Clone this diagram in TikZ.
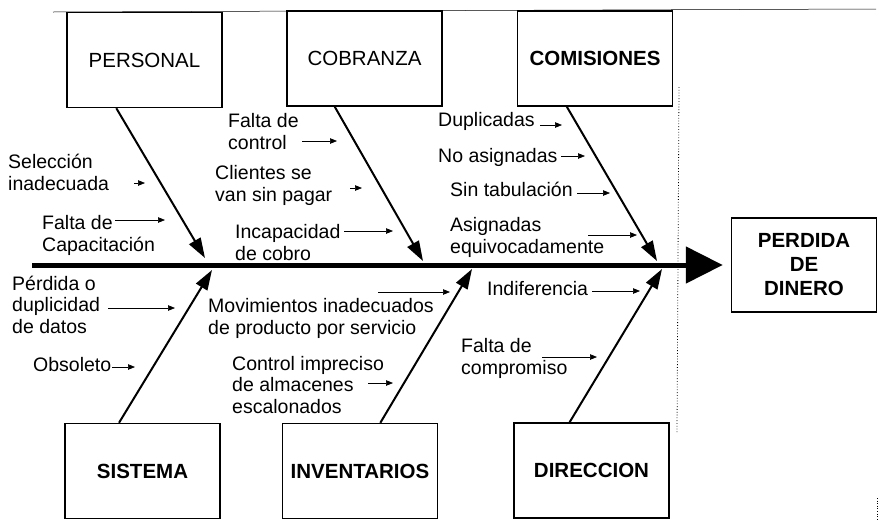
\documentclass[tikz,border=0pt]{standalone}
\usepackage{fontspec}
\setmainfont{Liberation Sans}
\usepackage{tikz}
\usetikzlibrary{arrows.meta}
\usetikzlibrary{calc}

\tikzset{
    caja/.style={draw,line width=1.5pt,minimum width=155pt,minimum height=95pt,inner sep=0pt,
        font=\fontsize{20.5}{24}\selectfont,align=center},
    causa/.style={anchor=base west,inner sep=0pt,align=left,font=\fontsize{19.5}{21.5}\selectfont},
    espina/.style={line width=5pt,-{Triangle[length=37pt,width=36pt]}},
    hueso/.style={line width=2pt,-{Triangle[length=20pt,width=13pt]}},
    flechita/.style={line width=0.7pt,-{Triangle[length=7pt,width=5.5pt]}}
}

\begin{document}
\begin{tikzpicture}[x=1pt,y=-1pt]
            \useasboundingbox (0,0) rectangle (880,520);
            % bordes del papel
            \draw[line width=0.5pt] (53,12) -- (876,9);
            \draw[dotted,line width=0.8pt] (679,87) -- (677,432);
            \draw[dotted,line width=0.6pt] (877,498) -- (877,520);
            % categorias
            \node[caja] (personal) at (144.5,60) {PERSONAL};
            \node[caja] (cobranza) at (364.5,58.5) {COBRANZA};
            \node[caja] (comisiones) at (595,58.5) {\textbf{COMISIONES}};
            \node[caja] (sistema) at (142.5,471) {\textbf{SISTEMA}};
            \node[caja] (inventarios) at (360,471) {\textbf{INVENTARIOS}};
            \node[caja] (direccion) at (591.5,470.5) {\textbf{DIRECCION}};
            \node[caja,minimum width=145pt,minimum height=94pt] (perdida) at (804,265) {\textbf{PERDIDA}\\\textbf{DE}\\\textbf{DINERO}};
            % espina central
            \coordinate (inicio) at (32,265);
            \draw[espina,shorten >=8pt] (inicio) -- (perdida.west);
            % huesos
            \foreach \caja/\t/\x/\y in {personal/0.32/205/258,cobranza/0.31/423/261,comisiones/0.32/657/261,
                                        sistema/0.35/212/270,inventarios/0.63/472/269,direccion/0.36/662/269} {
                \coordinate (p\caja) at (\x,\y);
                \ifnum\y<265
                    \draw[hueso] ($(\caja.south west)!\t!(\caja.south east)$) -- (p\caja);
                \else
                    \draw[hueso] ($(\caja.north west)!\t!(\caja.north east)$) -- (p\caja);
                \fi
            }
            % causas (y = linea base de la ultima linea)
            \foreach \nom/\x/\y/\texto in {sel/8/190/{Selección\\inadecuada},
                                          fcap/42/251/{Falta de\\Capacitación},
                                          fcon/228/149/{Falta de\\control},
                                          cli/215/201/{Clientes se\\van sin pagar},
                                          inc/235/260/{Incapacidad\\de cobro},
                                          dup/438/126/{Duplicadas},
                                          noa/438/162/{No asignadas},
                                          sint/450/196/{Sin tabulación},
                                          asig/450/253/{Asignadas\\equivocadamente},
                                          perd/12/333/{Pérdida o\\duplicidad\\de datos},
                                          obs/33/371/{Obsoleto},
                                          mov/208/334/{Movimientos inadecuados\\de producto por servicio},
                                          ctrl/232/413/{Control impreciso\\de almacenes\\escalonados},
                                          indi/487/295/{Indiferencia},
                                          fcom/461/374/{Falta de\\compromiso}} {
                \node[causa] (\nom) at (\x,\y) {\texto};
            }
            % flechas de las causas
            \foreach \nom/\xa/\xb/\y in {sel/134/145/183,fcap/115/165/220,fcon/302/337/141,cli/350/362/188,
                                         inc/344/393/231,dup/540/562/125,noa/561/585/156,sint/577/610/193,
                                         asig/588/637/235,perd/108/175/308,obs/112/135/367,mov/378/450/292,
                                         ctrl/368/393/383,indi/592/640/291,fcom/542/597/357} {
                \coordinate (a\nom) at (\xa,\y);
                \coordinate (b\nom) at (\xb,\y);
                \draw[flechita] (a\nom) -- (b\nom);
            }
        \end{tikzpicture}
\end{document}
